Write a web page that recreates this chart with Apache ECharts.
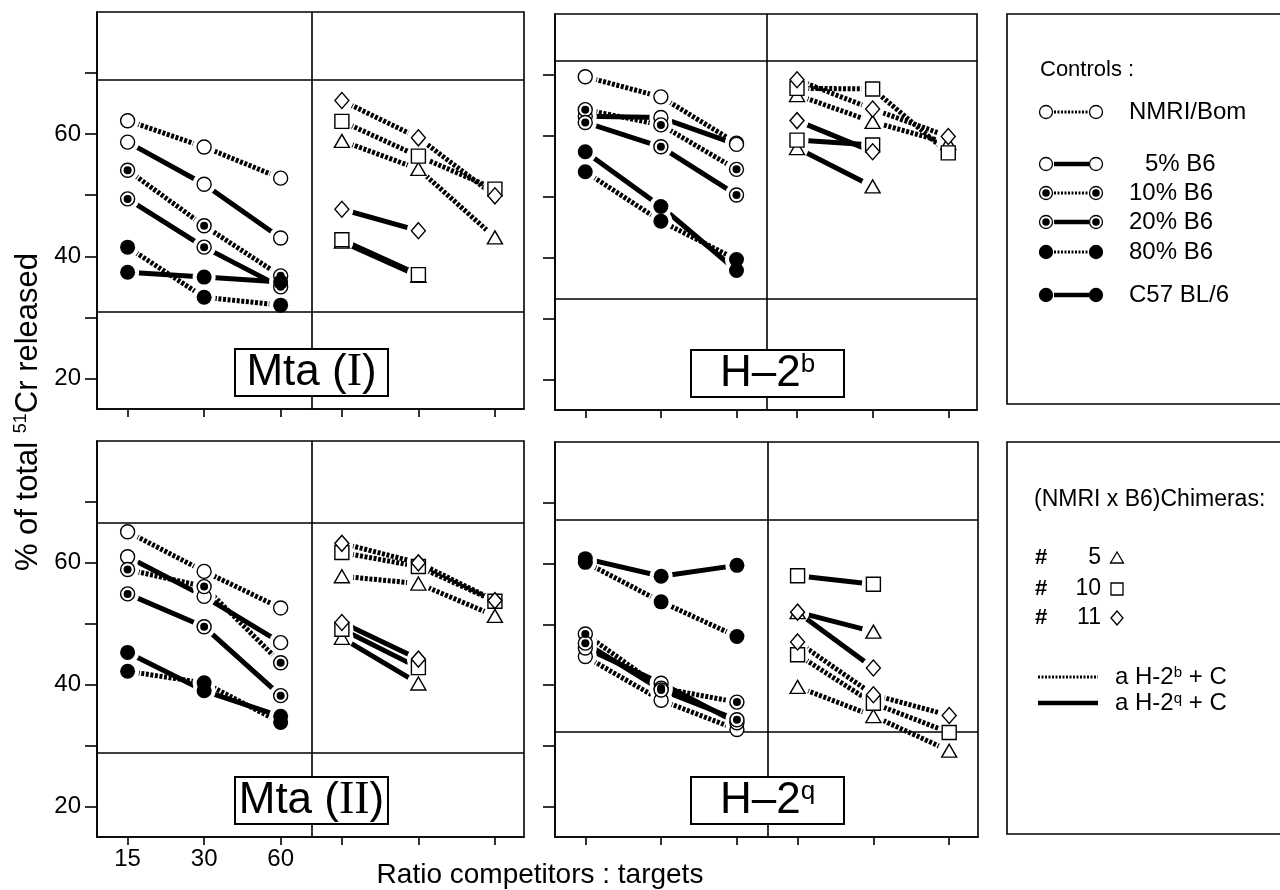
<!DOCTYPE html>
<html>
<head>
<meta charset="utf-8">
<title>51Cr release - competition</title>
<script src="https://cdn.jsdelivr.net/npm/echarts@6/dist/echarts.min.js"></script>
<style>
html, body { margin: 0; padding: 0; background: #fff; }
#chart { width: 1280px; height: 890px; }
</style>
</head>
<body>
<div id="chart"></div>
<script>
// x positions: left half of each panel = controls, right half = chimeras
const ratioLabels = ['15', '30', '60'];
const xControls = [0, 1, 2];
const xChimeras = [2.8, 3.8, 4.8];
const xTicks = [0, 1, 2, 2.8, 3.8, 4.8];
const yTicks = [20, 30, 40, 50, 60, 70];
const yLabels = [20, 40, 60];
const dividerX = 2.4;

const controlNames = ['NMRI/Bom', '5% B6', '10% B6', '20% B6', '80% B6', 'C57 BL/6'];
const chimeraNames = ['5', '10', '11'];

// rows = NMRI/Bom, 5%, 10%, 20%, 80%, C57BL/6 ; cols = 15, 30, 60
const mtaI_controls = [
  [62.2, 57.9, 52.8],
  [58.7, 51.8, 43.0],
  [54.1, 45.0, 36.8],
  [49.4, 41.5, 35.0],
  [41.5, 33.3, 32.0],
  [37.4, 36.6, 35.8]
];
// rows = chimera #5, #10, #11
const mtaI_chimB = [ // aH-2b + C
  [58.9, 54.3, 43.1],
  [62.1, 56.4, 51.0],
  [65.5, 59.4, 49.9]
];
const mtaI_chimQ = [ // aH-2q + C
  [42.4, 36.8],
  [42.7, 37.0],
  [47.7, 44.2]
];
const mtaI_refs = [68.9, 30.9];

const h2b_controls = [
  [69.7, 66.4, 58.8],
  [63.2, 63.0, 58.6],
  [64.3, 61.8, 54.5],
  [62.2, 58.2, 50.3],
  [54.1, 46.0, 39.7],
  [57.4, 48.4, 37.9]
];
const h2b_chimB = [
  [66.7, 62.3, 58.8],
  [67.8, 67.7, 57.2],
  [69.2, 64.4, 59.9]
];
const h2b_chimQ = [
  [58.0, 51.7],
  [59.3, 58.5],
  [62.5, 57.4]
];
const h2b_refs = [72.3, 33.2];

const mtaII_controls = [
  [65.1, 58.6, 52.6],
  [61.0, 54.5, 46.9],
  [58.9, 56.1, 43.6],
  [54.9, 49.5, 38.2],
  [42.2, 40.3, 33.8],
  [45.3, 39.0, 34.8]
];
const mtaII_chimB = [
  [57.8, 56.6, 51.3],
  [61.7, 59.4, 53.7],
  [63.2, 60.0, 53.8]
];
const mtaII_chimQ = [
  [47.7, 40.2],
  [49.1, 42.8],
  [50.2, 44.2]
];
const mtaII_refs = [66.5, 28.8];

const h2q_controls = [
  [44.7, 37.5, 32.7],
  [46.1, 40.3, 33.8],
  [48.4, 39.5, 37.2],
  [46.9, 39.2, 34.3],
  [60.2, 53.7, 48.0],
  [60.8, 57.9, 59.7]
];
const h2q_chimB = [
  [39.7, 34.9, 29.2],
  [45.0, 37.0, 32.2],
  [47.1, 38.4, 35.0]
];
const h2q_chimQ = [
  [52.0, 48.8],
  [58.0, 56.6],
  [52.0, 42.8]
];
const h2q_refs = [67.2, 32.3];

const INK = '#000';
const FONT = "'Liberation Sans', Arial, sans-serif";
const DOT = [3, 1.6];

const controlMarks = ['open', 'open', 'ring', 'ring', 'fill', 'fill'];
const controlDash = ['dot', 'solid', 'dot', 'solid', 'dot', 'solid'];
const chimSymbols = ['triangle', 'rect', 'diamond'];

const panels = [
  { controls: mtaI_controls, chimB: mtaI_chimB, chimQ: mtaI_chimQ, refs: mtaI_refs },
  { controls: h2b_controls, chimB: h2b_chimB, chimQ: h2b_chimQ, refs: h2b_refs },
  { controls: mtaII_controls, chimB: mtaII_chimB, chimQ: mtaII_chimQ, refs: mtaII_refs },
  { controls: h2q_controls, chimB: h2q_chimB, chimQ: h2q_chimQ, refs: h2q_refs }
];

const grids = [
  { left: 97, top: 12, width: 427, height: 397 },
  { left: 555, top: 14, width: 422, height: 396 },
  { left: 97, top: 441, width: 427, height: 396 },
  { left: 555, top: 442, width: 423, height: 395 }
];

const pairs = (xs, vals) => vals.map((v, i) => [xs[i], v]);

function lineSeries(gi, pts, dash) {
  return {
    type: 'line', xAxisIndex: gi, yAxisIndex: gi, z: 2,
    symbol: 'none', silent: true,
    lineStyle: { color: INK, width: dash === 'dot' ? 5 : 5, type: dash === 'dot' ? DOT : 'solid', cap: 'butt', opacity: 1 },
    data: pts
  };
}

function circleItem(pt, kind) {
  if (kind === 'fill') {
    return { value: pt, symbol: 'circle', symbolSize: 15, itemStyle: { color: INK, borderWidth: 0, opacity: 1 } };
  }
  return { value: pt, symbol: 'circle', symbolSize: 14, itemStyle: { color: '#fff', borderColor: INK, borderWidth: 1.4, opacity: 1 } };
}

function chimItem(pt, sym) {
  const size = sym === 'triangle' ? [15, 13] : sym === 'diamond' ? [14, 16] : 14;
  return { value: pt, symbol: sym, symbolSize: size, itemStyle: { color: '#fff', borderColor: INK, borderWidth: 1.4, opacity: 1 } };
}

const series = [];
panels.forEach((p, gi) => {
  const marks = [];
  const dots = [];
  // frame lines inside the panel
  series.push({
    type: 'line', xAxisIndex: gi, yAxisIndex: gi, z: 4, data: [], silent: true,
    markLine: {
      silent: true, symbol: ['none', 'none'], animation: false,
      label: { show: false }, emphasis: { disabled: true },
      lineStyle: { color: INK, width: 1.6, type: 'solid' },
      data: [{ xAxis: dividerX }].concat(p.refs.map(v => ({ yAxis: v })))
    }
  });
  p.controls.forEach((vals, k) => {
    const pts = pairs(xControls, vals);
    series.push(lineSeries(gi, pts, controlDash[k]));
    pts.forEach(pt => {
      marks.push(circleItem(pt, controlMarks[k]));
      if (controlMarks[k] === 'ring') dots.push(pt);
    });
  });
  [p.chimB, p.chimQ].forEach((group, g) => {
    group.forEach((vals, k) => {
      const pts = pairs(xChimeras, vals);
      series.push(lineSeries(gi, pts, g === 0 ? 'dot' : 'solid'));
      pts.forEach(pt => marks.push(chimItem(pt, chimSymbols[k])));
    });
  });
  // white halo so the lines stop short of the symbols
  series.push({
    type: 'scatter', xAxisIndex: gi, yAxisIndex: gi, z: 3, silent: true,
    symbol: 'circle', symbolSize: 23, itemStyle: { color: '#fff', opacity: 1 },
    data: marks.map(m => m.value)
  });
  series.push({ type: 'scatter', xAxisIndex: gi, yAxisIndex: gi, z: 5, silent: true, data: marks });
  series.push({
    type: 'scatter', xAxisIndex: gi, yAxisIndex: gi, z: 6, silent: true,
    symbol: 'circle', symbolSize: 8, itemStyle: { color: INK, opacity: 1 }, data: dots
  });
});

const tickFont = { fontFamily: FONT, fontSize: 24, color: INK };

const xAxes = grids.map((g, gi) => ({
  type: 'value', gridIndex: gi, min: -0.4, max: 5.18, position: 'bottom',
  axisLine: { show: true, onZero: false, lineStyle: { color: INK, width: 1.6 } },
  splitLine: { show: false },
  axisTick: { show: true, customValues: xTicks, length: 8, lineStyle: { color: INK, width: 1.6 } },
  axisLabel: Object.assign({
    show: gi === 2, customValues: xControls, margin: 10,
    formatter: v => ratioLabels[xControls.indexOf(v)]
  }, tickFont)
}));

const yAxes = grids.map((g, gi) => ({
  type: 'value', gridIndex: gi, min: 15, max: 80, position: 'left',
  axisLine: { show: true, onZero: false, lineStyle: { color: INK, width: 1.6 } },
  splitLine: { show: false },
  axisTick: { show: true, customValues: yTicks, length: 12, lineStyle: { color: INK, width: 1.6 } },
  axisLabel: Object.assign({ show: gi % 2 === 0, customValues: yLabels, margin: 16 }, tickFont)
}));

// ---- graphics: panel titles, axis titles, legends ----
const graphics = [];
function text(x, y, str, size, extra) {
  const style = Object.assign({
    text: str, fontFamily: FONT, fontSize: size, fill: INK,
    textAlign: 'left', align: 'left', textVerticalAlign: 'middle', verticalAlign: 'middle'
  }, extra || {});
  graphics.push({ type: 'text', x: x, y: y, z: 101, style: style });
}
function box(x, y, w, h, lw) {
  graphics.push({ type: 'rect', z: 100, shape: { x: x, y: y, width: w, height: h }, style: { fill: '#fff', stroke: INK, lineWidth: lw } });
}
const center = { textAlign: 'center', align: 'center' };

const titles = [
  { x: 235, y: 349, text: 'Mta ({r|I})' },
  { x: 691, y: 350, text: 'H\u20132{sup|b}' },
  { x: 235, y: 777, text: 'Mta ({r|II})' },
  { x: 691, y: 777, text: 'H\u20132{sup|q}' }
];
titles.forEach(t => {
  box(t.x, t.y, 153, 47, 2);
  text(t.x + 76.5, t.y + 24, t.text, 44, Object.assign({
    rich: {
      r: { fontFamily: "'Liberation Serif', serif", fontSize: 46, fill: INK },
      sup: { fontFamily: FONT, fontSize: 26, fill: INK, verticalAlign: 'top' }
    }
  }, center));
});

graphics.push({
  type: 'text', x: 28, y: 412, rotation: Math.PI / 2, z: 101,
  style: {
    text: '% of total {sup|51}Cr released', fontFamily: FONT, fontSize: 31, fill: INK,
    textAlign: 'center', align: 'center', textVerticalAlign: 'middle', verticalAlign: 'middle',
    rich: { sup: { fontFamily: FONT, fontSize: 18, fill: INK, verticalAlign: 'top' } }
  }
});
text(540, 875, 'Ratio competitors : targets', 28, center);

// legend boxes
graphics.push({ type: 'rect', z: 100, shape: { x: 1007, y: 14, width: 300, height: 390 }, style: { fill: 'none', stroke: INK, lineWidth: 1.6 } });
graphics.push({ type: 'rect', z: 100, shape: { x: 1007, y: 442, width: 300, height: 392 }, style: { fill: 'none', stroke: INK, lineWidth: 1.6 } });

text(1040, 70, 'Controls :', 22);
const legendRowsY = [112, 164, 193, 222, 252, 295];
controlNames.forEach((name, k) => {
  const y = legendRowsY[k];
  const dot = controlDash[k] === 'dot';
  graphics.push({
    type: 'line', z: 101, shape: { x1: 1054, y1: y, x2: 1089, y2: y },
    style: { stroke: INK, lineWidth: dot ? 3 : 4.5, lineDash: dot ? [2, 1.5] : null }
  });
  [1046, 1096].forEach(cx => {
    const filled = controlMarks[k] === 'fill';
    graphics.push({
      type: 'circle', z: 102, shape: { cx: cx, cy: y, r: 6.5 },
      style: { fill: filled ? INK : '#fff', stroke: INK, lineWidth: 1.3 }
    });
    if (controlMarks[k] === 'ring') {
      graphics.push({ type: 'circle', z: 103, shape: { cx: cx, cy: y, r: 3.8 }, style: { fill: INK } });
    }
  });
  text(/^\d%/.test(name) ? 1145 : 1129, y, name, 24);
});

text(1034, 500, '(NMRI x B6)Chimeras:', 23);
const chimRowsY = [558, 589, 618];
chimeraNames.forEach((n, k) => {
  const y = chimRowsY[k];
  text(1035, y, '#', 22, { fontWeight: 'bold' });
  text(1101, y, n, 23, { textAlign: 'right', align: 'right' });
  const cx = 1117;
  let shape;
  if (k === 0) shape = { type: 'polygon', shape: { points: [[cx, y - 6], [cx - 6.5, y + 5], [cx + 6.5, y + 5]] } };
  else if (k === 1) shape = { type: 'rect', shape: { x: cx - 6, y: y - 6, width: 12, height: 12 } };
  else shape = { type: 'polygon', shape: { points: [[cx, y - 7], [cx - 6, y], [cx, y + 7], [cx + 6, y]] } };
  shape.z = 101;
  shape.style = { fill: '#fff', stroke: INK, lineWidth: 1.3 };
  graphics.push(shape);
});
graphics.push({ type: 'line', z: 101, shape: { x1: 1038, y1: 677, x2: 1098, y2: 677 }, style: { stroke: INK, lineWidth: 3, lineDash: [2, 1.5] } });
graphics.push({ type: 'line', z: 101, shape: { x1: 1038, y1: 703, x2: 1098, y2: 703 }, style: { stroke: INK, lineWidth: 4.5 } });
const supRich = { rich: { sup: { fontFamily: FONT, fontSize: 15, fill: INK, verticalAlign: 'top' } } };
text(1115, 677, 'a H-2{sup|b} + C', 24, supRich);
text(1115, 703, 'a H-2{sup|q} + C', 24, supRich);

const chart = echarts.init(document.getElementById('chart'));
chart.setOption({
  backgroundColor: '#fff',
  animation: false,
  grid: grids.map(g => Object.assign({ show: true, borderColor: INK, borderWidth: 1.6, backgroundColor: 'transparent' }, g)),
  xAxis: xAxes,
  yAxis: yAxes,
  series: series,
  graphic: graphics
});
</script>
</body>
</html>
